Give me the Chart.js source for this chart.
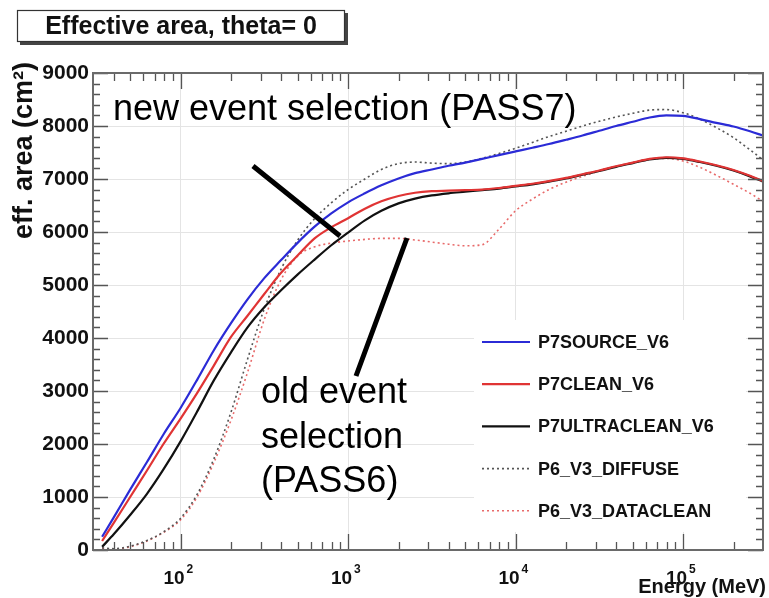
<!DOCTYPE html>
<html><head><meta charset="utf-8">
<script src="https://cdn.jsdelivr.net/npm/chart.js@4/dist/chart.umd.min.js"></script>
<style>html,body{margin:0;padding:0;background:#fff}#wrap{width:769px;height:598px}</style>
</head><body><div id="wrap"><canvas id="c" width="769" height="598"></canvas></div>
<script>
// Energy grid (MeV)
const energies = [34, 40, 50, 63, 79, 100, 126, 158, 200, 251, 316, 398, 501, 631, 794, 1000, 1260, 1580, 2000, 2510, 3160, 3980, 5010, 6310, 7940, 10000, 12600, 15800, 20000, 25100, 31600, 39800, 50100, 63100, 79400, 100000, 126000, 158000, 200000, 251000, 300000];
// Effective area (cm^2)
const p7source     = [250, 620, 1140, 1660, 2180, 2680, 3220, 3770, 4280, 4730, 5130, 5470, 5800, 6100, 6350, 6560, 6730, 6880, 7010, 7110, 7180, 7250, 7310, 7380, 7450, 7520, 7590, 7660, 7740, 7820, 7910, 8000, 8080, 8160, 8200, 8190, 8130, 8060, 7990, 7900, 7820];
const p7clean      = [170, 515, 1000, 1500, 2000, 2480, 2970, 3480, 4020, 4420, 4830, 5230, 5560, 5880, 6090, 6260, 6440, 6580, 6680, 6740, 6770, 6780, 6790, 6800, 6830, 6870, 6910, 6960, 7020, 7090, 7160, 7240, 7310, 7380, 7410, 7390, 7330, 7260, 7170, 7060, 6960];
const p7ultraclean = [60, 300, 660, 1060, 1520, 2050, 2620, 3200, 3730, 4200, 4580, 4900, 5200, 5480, 5750, 5990, 6220, 6400, 6540, 6630, 6690, 6730, 6760, 6790, 6820, 6860, 6900, 6950, 7010, 7080, 7150, 7230, 7300, 7370, 7400, 7380, 7320, 7250, 7160, 7050, 6950];
const p6diffuse    = [40, 25, 70, 180, 340, 600, 1060, 1720, 2600, 3600, 4550, 5300, 5850, 6250, 6550, 6800, 7000, 7180, 7290, 7320, 7300, 7290, 7320, 7390, 7480, 7580, 7690, 7800, 7900, 8000, 8090, 8170, 8240, 8300, 8310, 8250, 8130, 7970, 7780, 7550, 7360];
const p6dataclean  = [30, 15, 60, 170, 330, 570, 1010, 1650, 2450, 3350, 4350, 5100, 5550, 5720, 5790, 5830, 5860, 5880, 5880, 5850, 5810, 5770, 5740, 5760, 6050, 6400, 6620, 6800, 6940, 7050, 7150, 7240, 7310, 7370, 7390, 7340, 7220, 7070, 6900, 6730, 6580];
const seriesLabels = ['P7SOURCE_V6', 'P7CLEAN_V6', 'P7ULTRACLEAN_V6', 'P6_V3_DIFFUSE', 'P6_V3_DATACLEAN'];
const xTickValues = [100, 1000, 10000, 100000];
const xTickExponents = ['2', '3', '4', '5'];
const yTickValues = [0, 1000, 2000, 3000, 4000, 5000, 6000, 7000, 8000, 9000];

const FONT = '"Liberation Sans", Arial, Helvetica, sans-serif';
const pts = arr => energies.map((e, i) => ({x: e, y: arr[i]}));

const styles = [
  {color: '#2b2bd6', dash: [], width: 2.2},
  {color: '#e03434', dash: [], width: 2.2},
  {color: '#111111', dash: [], width: 2.2},
  {color: '#555555', dash: [2, 3], width: 1.6},
  {color: '#e86a6a', dash: [2, 3], width: 1.6}
];
const seriesData = [p7source, p7clean, p7ultraclean, p6diffuse, p6dataclean];

const datasets = seriesData.map((d, i) => ({
  label: seriesLabels[i],
  data: pts(d),
  borderColor: styles[i].color,
  borderDash: styles[i].dash,
  borderWidth: styles[i].width,
  pointRadius: 0,
  fill: false,
  cubicInterpolationMode: 'monotone'
}));

const decor = {
  id: 'decor',
  afterDraw(chart) {
    const ctx = chart.ctx;
    const a = chart.chartArea;
    const xs = chart.scales.x, ys = chart.scales.y;
    ctx.save();
    // tick marks (inside frame, all four sides)
    ctx.strokeStyle = '#555';
    ctx.lineWidth = 1.3;
    ctx.beginPath();
    for (let v = 0; v <= 9000; v += 200) {
      const y = Math.round(ys.getPixelForValue(v)) + 0.5;
      const L = (v % 1000 === 0) ? 15 : 7;
      ctx.moveTo(a.left, y); ctx.lineTo(a.left + L, y);
      ctx.moveTo(a.right, y); ctx.lineTo(a.right - L, y);
    }
    for (let d = 10; d <= 100000; d *= 10) {
      for (let k = 1; k <= 9; k++) {
        const v = d * k;
        if (v <= xs.min || v >= xs.max) continue;
        const x = Math.round(xs.getPixelForValue(v)) + 0.5;
        const L = (k === 1) ? 16 : 8;
        ctx.moveTo(x, a.bottom); ctx.lineTo(x, a.bottom - L);
        ctx.moveTo(x, a.top); ctx.lineTo(x, a.top + L);
      }
    }
    ctx.stroke();
    // frame
    ctx.strokeStyle = '#6a6a6a';
    ctx.lineWidth = 2;
    ctx.strokeRect(a.left, a.top, a.right - a.left, a.bottom - a.top);

    // x tick labels: 10 with superscript exponent
    ctx.fillStyle = '#111';
    ctx.textBaseline = 'alphabetic';
    xTickValues.forEach((v, i) => {
      const x = xs.getPixelForValue(v);
      ctx.font = 'bold 19px ' + FONT;
      ctx.textAlign = 'right';
      ctx.fillText('10', x + 4, 584);
      ctx.font = 'bold 12px ' + FONT;
      ctx.textAlign = 'left';
      ctx.fillText(xTickExponents[i], x + 6, 573);
    });

    // legend
    ctx.fillStyle = '#fff';
    ctx.fillRect(474, 320, 272, 212);
    chart.data.datasets.forEach((ds, i) => {
      const y = 342 + i * 42.2;
      ctx.strokeStyle = ds.borderColor;
      ctx.lineWidth = ds.borderWidth;
      ctx.setLineDash(ds.borderDash);
      ctx.beginPath(); ctx.moveTo(482, y); ctx.lineTo(530, y); ctx.stroke();
      ctx.setLineDash([]);
      ctx.fillStyle = '#111';
      ctx.font = 'bold 18px ' + FONT;
      ctx.textBaseline = 'middle';
      ctx.textAlign = 'left';
      ctx.fillText(ds.label, 538, y + 1);
    });

    // title box
    ctx.fillStyle = '#444';
    ctx.fillRect(20, 13, 328, 32);
    ctx.fillStyle = '#fff';
    ctx.fillRect(17, 10, 328, 32);
    ctx.strokeStyle = '#333'; ctx.lineWidth = 1.2;
    ctx.strokeRect(17.5, 10.5, 327, 31);
    ctx.fillStyle = '#111';
    ctx.font = 'bold 25px ' + FONT;
    ctx.textAlign = 'center'; ctx.textBaseline = 'middle';
    ctx.fillText('Effective area, theta= 0', 181, 27);

    // axis titles
    ctx.font = 'bold 20px ' + FONT;
    ctx.textAlign = 'right'; ctx.textBaseline = 'alphabetic';
    ctx.fillText('Energy (MeV)', 766, 593);
    ctx.save();
    ctx.translate(32, 62);
    ctx.rotate(-Math.PI / 2);
    ctx.font = 'bold 27px ' + FONT;
    ctx.textAlign = 'right';
    ctx.fillText('eff. area (cm\u00B2)', 0, 0);
    ctx.restore();

    // annotations
    ctx.fillStyle = '#000';
    ctx.font = '36px ' + FONT;
    ctx.textAlign = 'left'; ctx.textBaseline = 'alphabetic';
    ctx.fillText('new event selection (PASS7)', 113, 120);
    ctx.fillText('old event', 261, 403);
    ctx.fillText('selection', 261, 448);
    ctx.fillText('(PASS6)', 261, 492);
    ctx.strokeStyle = '#000'; ctx.lineWidth = 5; ctx.lineCap = 'butt';
    ctx.beginPath();
    ctx.moveTo(253, 166); ctx.lineTo(340, 236);
    ctx.moveTo(407, 238); ctx.lineTo(356, 376);
    ctx.stroke();
    ctx.restore();
  }
};

new Chart(document.getElementById('c'), {
  type: 'line',
  data: {datasets},
  options: {
    responsive: false,
    animation: false,
    devicePixelRatio: 1,
    layout: {padding: {top: 73, right: 6, left: 0, bottom: 0}},
    plugins: {legend: {display: false}, tooltip: {enabled: false}, title: {display: false}},
    scales: {
      x: {
        type: 'logarithmic',
        min: 30, max: 300000,
        afterBuildTicks: s => { s.ticks = xTickValues.map(v => ({value: v, major: true})); },
        afterFit: s => { s.height = 48; },
        grid: {color: '#e4e4e4', lineWidth: 1, drawTicks: false},
        border: {display: false},
        ticks: {display: false}
      },
      y: {
        type: 'linear',
        min: 0, max: 9000,
        afterBuildTicks: s => { s.ticks = yTickValues.map(v => ({value: v})); },
        afterFit: s => { s.width = 93; },
        grid: {color: '#e4e4e4', lineWidth: 1, drawTicks: false},
        border: {display: false},
        ticks: {padding: 4, color: '#111', font: {family: FONT, size: 21, weight: 'bold'},
          callback: v => String(v)}
      }
    }
  },
  plugins: [decor]
});
</script>
</body></html>
